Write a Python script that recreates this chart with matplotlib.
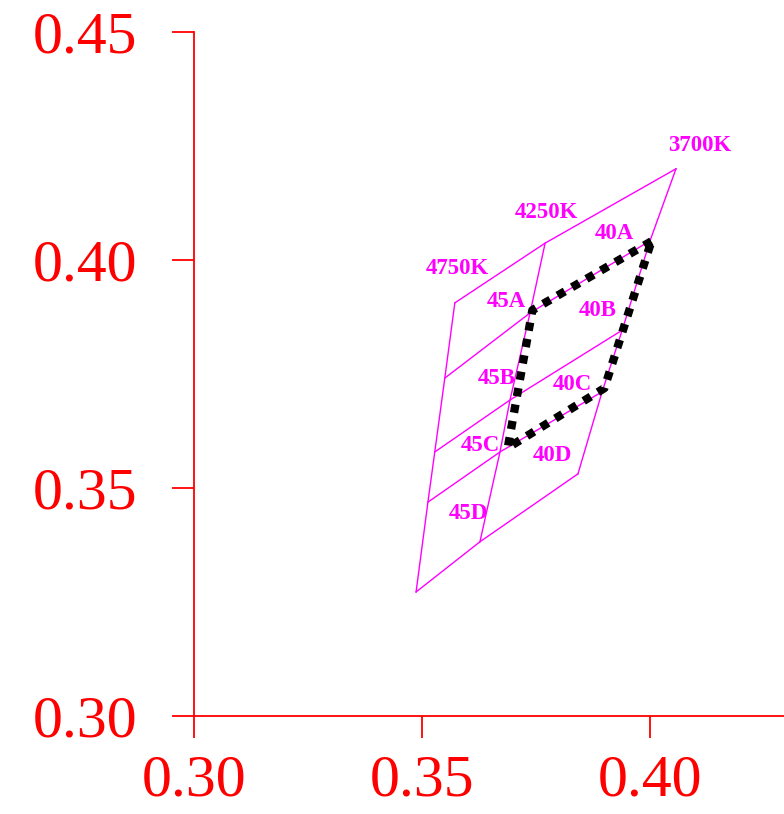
import matplotlib.pyplot as plt

# --- Bin grid nodes (rows top -> bottom, columns 4750K / 4250K / 3700K) ---
grid_x = [
    [0.3572, 0.3770, 0.4057],
    [0.3550, 0.3737, 0.4000],
    [0.3528, 0.3693, 0.3939],
    [0.3513, 0.3671, 0.3895],
    [0.3487, 0.3627, 0.3842],
]
grid_y = [
    [0.3906, 0.4037, 0.4200],
    [0.3741, 0.3884, 0.4042],
    [0.3579, 0.3693, 0.3846],
    [0.3469, 0.3579, 0.3711],
    [0.3272, 0.3382, 0.3531],
]

# ANSI 4000K quadrangle (black dotted)
quad_x = [0.4003, 0.3742, 0.3688, 0.3900]
quad_y = [0.4041, 0.3890, 0.3588, 0.3719]

# Labels and their positions
labels = ['3700K', '4250K', '4750K', '40A', '45A', '40B', '45B', '40C', '45C', '40D', '45D']
label_x = [0.4110, 0.3772, 0.3577, 0.3921, 0.3684, 0.3886, 0.3664, 0.3829, 0.3629, 0.3787, 0.3601]
label_y = [0.4252, 0.4105, 0.3982, 0.4059, 0.3908, 0.3890, 0.3741, 0.3726, 0.3594, 0.3572, 0.3443]

xticks = [0.30, 0.35, 0.40]
yticks = [0.30, 0.35, 0.40, 0.45]

plt.rcParams['font.family'] = ['Liberation Serif', 'DejaVu Serif']

fig = plt.figure(figsize=(7.84, 8.14), dpi=100)
ax = fig.add_axes([194 / 784, 98 / 814, 590 / 784, 684 / 814])

magenta = '#FF00FF'
# lines along each row
for row_x, row_y in zip(grid_x, grid_y):
    ax.plot(row_x, row_y, color=magenta, lw=1.0)
# lines along each column
for c in range(3):
    ax.plot([r[c] for r in grid_x], [r[c] for r in grid_y], color=magenta, lw=1.0)

# black dotted quadrangle
ax.plot(quad_x + quad_x[:1], quad_y + quad_y[:1], color='black', lw=6,
        linestyle=(0, (1, 1)), dash_capstyle='butt')

for t, x, y in zip(labels, label_x, label_y):
    ax.text(x, y, t, color=magenta, fontsize=16.5, fontweight='bold',
            ha='center', va='center')

ax.set_xlim(0.30, 0.30 + 590 / 4560)
ax.set_ylim(0.30, 0.45)

for side in ['top', 'right']:
    ax.spines[side].set_visible(False)
for side in ['left', 'bottom']:
    ax.spines[side].set_color('red')
    ax.spines[side].set_linewidth(1.3)

ax.set_xticks(xticks)
ax.set_xticklabels([f'{v:.2f}' for v in xticks])
ax.set_yticks(yticks)
ax.set_yticklabels([f'{v:.2f}' for v in yticks])
ax.tick_params(axis='both', colors='red', labelcolor='red', labelsize=43,
               length=16, width=1.3, direction='out')
ax.tick_params(axis='y', pad=25)
ax.tick_params(axis='x', pad=12)

fig.savefig('out.png', dpi=100)
